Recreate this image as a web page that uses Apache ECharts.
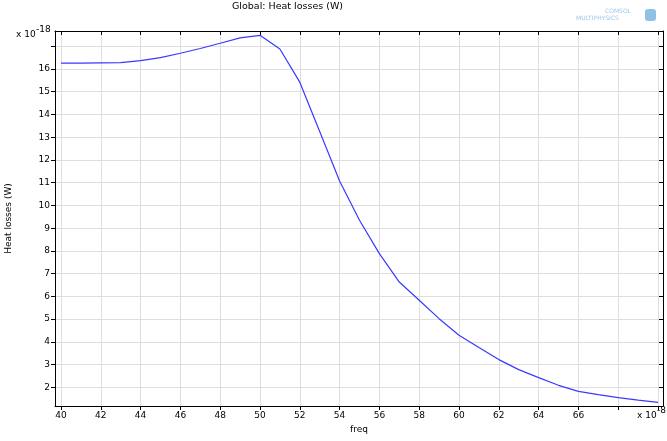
<!DOCTYPE html>
<html>
<head>
<meta charset="utf-8">
<script src="https://cdn.jsdelivr.net/npm/echarts@6/dist/echarts.min.js"></script>
<style>html,body{margin:0;padding:0;background:#fff;}#c{width:667px;height:441px;}</style>
</head>
<body>
<div id="c"></div>
<script>
var freq = [40,41,42,43,44,45,46,47,48,49,50,51,52,53,54,55,56,57,58,59,60,61,62,63,64,65,66,67,68,69,70];
var heatLoss = [16.26,16.26,16.27,16.28,16.37,16.5,16.69,16.9,17.13,17.37,17.48,16.88,15.42,13.25,11.07,9.35,7.88,6.63,5.83,5.02,4.29,3.75,3.22,2.78,2.43,2.09,1.82,1.68,1.55,1.44,1.34];
var xTicks = [40,42,44,46,48,50,52,54,56,58,60,62,64,66,68,70];
var xLabels = [40,42,44,46,48,50,52,54,56,58,60,62,64,66];
var yTicks = [2,3,4,5,6,7,8,9,10,11,12,13,14,15,16,17];
var yLabels = [2,3,4,5,6,7,8,9,10,11,12,13,14,15,16];

var FONT = 'DejaVu Sans';
var chart = echarts.init(document.getElementById('c'), null, {renderer:'canvas'});
var data = freq.map(function(f,i){return [f, heatLoss[i]];});
var xMin = 39.7, xMax = 70.25, yMin = 1.18, yMax = 17.67;
var lineStyle = {color:'#000', width:1};
var grid = {color:'#dedede', width:1};
chart.setOption({
  animation:false,
  backgroundColor:'#fff',
  title:{text:'Global: Heat losses (W)', left:232, top:2, padding:0, textStyle:{fontFamily:FONT, fontSize:9.5, fontWeight:'normal', color:'#000'}},
  grid:{left:55, right:4, top:31, bottom:35, containLabel:false, outerBoundsMode:'none'},
  xAxis:[{
    type:'value', position:'bottom', min:xMin, max:xMax,
    name:'freq', nameLocation:'middle', nameGap:18,
    nameTextStyle:{fontFamily:FONT, fontSize:9, color:'#000'},
    axisLine:{show:true, lineStyle:lineStyle},
    axisTick:{show:true, inside:false, length:4, customValues:xTicks, lineStyle:lineStyle},
    axisLabel:{customValues:xLabels, fontFamily:FONT, fontSize:9, color:'#000', margin:5},
    splitLine:{show:true, lineStyle:grid}
  },{
    type:'value', position:'top', min:xMin, max:xMax,
    axisLine:{show:true, lineStyle:lineStyle},
    axisTick:{show:true, inside:true, length:4, customValues:xTicks, lineStyle:lineStyle},
    axisLabel:{show:false},
    splitLine:{show:false}
  }],
  yAxis:[{
    type:'value', position:'left', min:yMin, max:yMax,
    name:'Heat losses (W)', nameLocation:'middle', nameGap:42, nameRotate:90,
    nameTextStyle:{fontFamily:FONT, fontSize:9, color:'#000'},
    axisLine:{show:true, lineStyle:lineStyle},
    axisTick:{show:true, inside:false, length:4, customValues:yTicks, lineStyle:lineStyle},
    axisLabel:{customValues:yLabels, fontFamily:FONT, fontSize:9, color:'#000', margin:5},
    splitLine:{show:true, lineStyle:grid}
  },{
    type:'value', position:'right', min:yMin, max:yMax,
    axisLine:{show:true, lineStyle:lineStyle},
    axisTick:{show:true, inside:true, length:4, customValues:yTicks, lineStyle:lineStyle},
    axisLabel:{show:false},
    splitLine:{show:false}
  }],
  series:[{
    type:'line', data:data, xAxisIndex:0, yAxisIndex:0,
    showSymbol:false, symbol:'none',
    lineStyle:{color:'#3a3aff', width:1.2}
  }],
  graphic:[
    {type:'text', left:16, top:30, style:{text:'x 10', font:'9px "DejaVu Sans"', fill:'#000'}},
    {type:'text', left:36, top:25.5, style:{text:'-18', font:'9px "DejaVu Sans"', fill:'#000'}},
    {type:'text', left:637, top:411, style:{text:'x 10', font:'9px "DejaVu Sans"', fill:'#000'}},
    {type:'text', left:657, top:406.5, style:{text:'-8', font:'9px "DejaVu Sans"', fill:'#000'}},
    {type:'text', left:605, top:8, style:{text:'COMSOL', font:'6px "DejaVu Sans"', fill:'#9fc8e8'}},
    {type:'text', left:576, top:15, style:{text:'MULTIPHYSICS', font:'6px "DejaVu Sans"', fill:'#9fc8e8'}},
    {type:'rect', left:645, top:9, shape:{width:11, height:12, r:3}, style:{fill:'#8fc0e6'}}
  ]
});
</script>
</body>
</html>
